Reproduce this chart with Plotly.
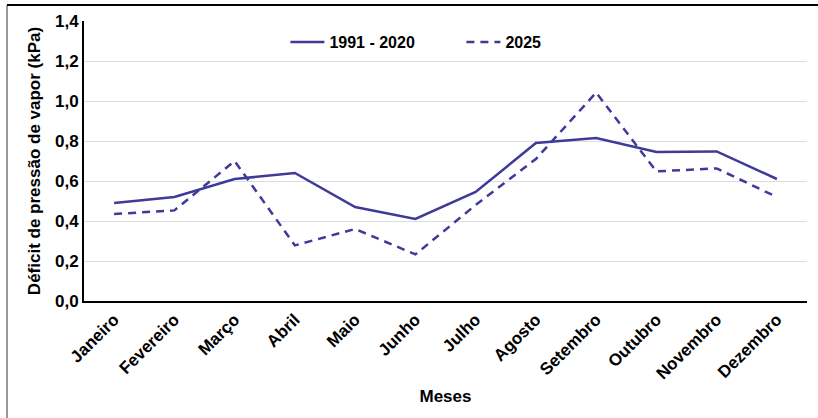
import plotly.graph_objects as go

# Monthly vapour pressure deficit (kPa)
meses = ["Janeiro", "Fevereiro", "Março", "Abril", "Maio", "Junho",
         "Julho", "Agosto", "Setembro", "Outubro", "Novembro", "Dezembro"]
normal_1991_2020 = [0.49, 0.52, 0.61, 0.64, 0.47, 0.41, 0.545, 0.79, 0.815, 0.745, 0.748, 0.61]
ano_2025 = [0.435, 0.453, 0.70, 0.278, 0.36, 0.233, 0.48, 0.71, 1.042, 0.648, 0.663, 0.52]
y_ticks = [0.0, 0.2, 0.4, 0.6, 0.8, 1.0, 1.2, 1.4]
y_tick_labels = [f"{v:.1f}".replace(".", ",") for v in y_ticks]

cor = "#3f3a98"
fonte = "Liberation Sans, Arial, sans-serif"

fig = go.Figure()
fig.add_trace(go.Scatter(x=meses, y=normal_1991_2020, mode="lines", name="1991 - 2020",
                         line=dict(color=cor, width=2.5)))
fig.add_trace(go.Scatter(x=meses, y=ano_2025, mode="lines", name="2025",
                         line=dict(color=cor, width=2.5, dash="8px,6px")))

# outer frame around the chart
fig.add_shape(type="line", xref="paper", yref="paper", x0=-0.1065, x1=1.02, y0=1.057, y1=1.057,
              line=dict(color="#000000", width=2))
fig.add_shape(type="line", xref="paper", yref="paper", x0=-0.1065, x1=-0.1065, y0=1.057, y1=-0.45,
              line=dict(color="#333333", width=1))

fig.update_layout(
    width=818, height=418,
    margin=dict(l=84, r=11, t=21, b=117),
    paper_bgcolor="white", plot_bgcolor="white",
    font=dict(family=fonte, size=16, color="#000000"),
    showlegend=True,
    legend=dict(orientation="h", x=0.522, xanchor="center", y=0.985, yanchor="top",
                font=dict(family=fonte, size=16, color="#000000", weight="bold"),
                bgcolor="rgba(0,0,0,0)", itemwidth=34, entrywidth=127),
    xaxis=dict(
        title=dict(text="<b>Meses</b>", font=dict(size=17), standoff=8),
        tickangle=-45, tickfont=dict(size=17, weight="bold"),
        showline=True, linecolor="#000000", linewidth=2,
        showgrid=False, ticks="", range=[-0.5, 11.5], fixedrange=True,
    ),
    yaxis=dict(
        title=dict(text="<b>Déficit de pressão de vapor (kPa)</b>", font=dict(size=17), standoff=10),
        range=[0, 1.4], tickvals=y_ticks, ticktext=y_tick_labels,
        tickfont=dict(size=17, weight="bold"),
        showline=True, linecolor="#000000", linewidth=2,
        gridcolor="#dcdcdc", gridwidth=1, zeroline=False, ticks="", fixedrange=True,
    ),
)

fig.write_html("out.html")
